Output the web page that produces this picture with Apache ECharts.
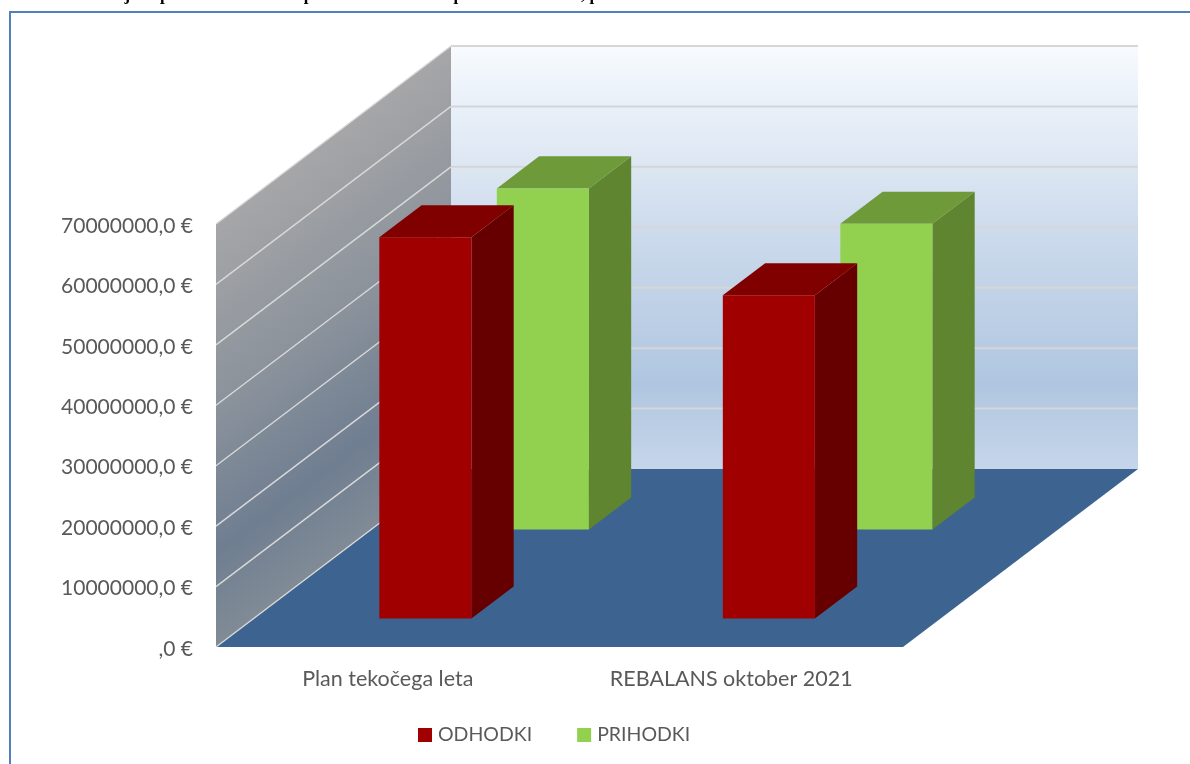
<!doctype html>
<html>
<head>
<meta charset="UTF-8">
<title>Plan in rebalans</title>
<script src="https://cdn.jsdelivr.net/npm/echarts@6/dist/echarts.min.js"></script>
<style>
    html, body { margin: 0; padding: 0; background: #fff; }
    #main { width: 1190px; height: 764px; overflow: hidden; }
</style>
</head>
<body>
<div id="main"></div>
<script type="text/javascript">
// podatki
var categories = ['Plan tekočega leta', 'REBALANS oktober 2021'];
var odhodki = [63100000, 53500000];
var prihodki = [56450000, 50600000];
var yTicks = [0, 10000000, 20000000, 30000000, 40000000, 50000000, 60000000, 70000000];
// top line of the page is cut off in the picture, only its lower edge shows
var captionText = 'Graf 1: Primerjava plana in rebalansa: prihodki in odhodki proračuna občine, plan in rebalans 2021 v EUR';

var textColor = '#595959';
var fontName = 'Lato';

// how far the back of the box is moved from the front, in pixels
var depthX = 235;
var depthY = -178;
var barWidth = 0.268; // part of a category band

function shifted(p, d) {
    return [p[0] + depthX * d, p[1] + depthY * d];
}

function face(points, color) {
    return { type: 'polygon', shape: { points: points }, style: { fill: color } };
}

function renderBox(params, api) {
    var cs = params.coordSys;
    var left = cs.x, right = cs.x + cs.width;
    var top = cs.y, bottom = cs.y + cs.height;
    var children = [];

    // back wall
    children.push(face([shifted([left, top], 1), shifted([right, top], 1), shifted([right, bottom], 1), shifted([left, bottom], 1)], {
        type: 'linear', x: 0, y: 0, x2: 0, y2: 1,
        colorStops: [
            { offset: 0, color: '#f8fbfe' },
            { offset: 0.14, color: '#e9f0f9' },
            { offset: 0.28, color: '#dde7f3' },
            { offset: 0.43, color: '#cddbec' },
            { offset: 0.8, color: '#b0c6e0' },
            { offset: 1, color: '#c6d6ea' }
        ]
    }));
    // side wall
    children.push(face([[left, top], shifted([left, top], 1), shifted([left, bottom], 1), [left, bottom]], {
        type: 'linear', x: left, y: top, x2: left + 203, y2: top + 269, global: true,
        colorStops: [
            { offset: 0, color: '#a6a6a8' },
            { offset: 0.42, color: '#8c939c' },
            { offset: 0.78, color: '#6f7e91' },
            { offset: 1, color: '#808b96' }
        ]
    }));
    // floor
    children.push(face([[left, bottom], [right, bottom], shifted([right, bottom], 1), shifted([left, bottom], 1)], '#3d6490'));

    // gridlines over both walls
    yTicks.forEach(function (t) {
        var y = api.coord([0, t])[1];
        var a = shifted([left, y], 1);
        var b = shifted([right, y], 1);
        children.push({ type: 'line', shape: { x1: left, y1: y, x2: a[0], y2: a[1] }, style: { stroke: '#d9d9d9', lineWidth: 1.4 } });
        if (t > 0) {
            children.push({ type: 'line', shape: { x1: a[0], y1: a[1], x2: b[0], y2: b[1] }, style: { stroke: '#d6d6d6', lineWidth: 2 } });
        }
    });
    return { type: 'group', children: children };
}

// d0, d1 = front and back of the bar inside the box, 0..1
function barRenderer(d0, d1, colFront, colSide, colTop) {
    return function (params, api) {
        var cat = api.value(0);
        var base = api.coord([cat, 0]);
        var tip = api.coord([cat, api.value(1)]);
        var half = api.size([1, 0])[0] * barWidth / 2;
        var bl = [base[0] - half, base[1]], br = [base[0] + half, base[1]];
        var tl = [base[0] - half, tip[1]], tr = [base[0] + half, tip[1]];
        return {
            type: 'group',
            children: [
                face([shifted(br, d0), shifted(br, d1), shifted(tr, d1), shifted(tr, d0)], colSide),
                face([shifted(tl, d0), shifted(tr, d0), shifted(tr, d1), shifted(tl, d1)], colTop),
                face([shifted(bl, d0), shifted(br, d0), shifted(tr, d0), shifted(tl, d0)], colFront)
            ]
        };
    };
}

function pairs(values) {
    return values.map(function (v, i) { return [i, v]; });
}

var myChart = echarts.init(document.getElementById('main'));
var option = {
    animation: false,
    title: {
        text: captionText,
        left: 10,
        top: -18,
        textStyle: { fontFamily: 'Liberation Serif', fontSize: 17, fontWeight: 'bold', color: '#000' }
    },
    grid: { left: 216, right: 287, top: 224, bottom: 117 },
    legend: {
        data: ['ODHODKI', 'PRIHODKI'],
        left: 413,
        top: 720,
        icon: 'rect',
        itemWidth: 14,
        itemHeight: 14,
        itemGap: 45,
        textStyle: { color: textColor, fontFamily: fontName, fontSize: 19.5, padding: [3, 0, 0, 1] }
    },
    xAxis: {
        type: 'category',
        data: categories,
        axisLine: { show: false },
        axisTick: { show: false },
        axisLabel: { color: textColor, fontFamily: fontName, fontSize: 21.5, margin: 21 }
    },
    yAxis: {
        type: 'value',
        min: 0,
        max: 70000000,
        interval: 10000000,
        splitLine: { show: false },
        axisLine: { show: false },
        axisTick: { show: false },
        axisLabel: {
            color: textColor, fontFamily: fontName, fontSize: 21, margin: 23,
            verticalAlign: 'top',
            lineHeight: 4,
            formatter: function (v) { return (v === 0 ? '' : v) + ',0 €'; }
        }
    },
    graphic: [{
        type: 'rect',
        silent: true,
        shape: { x: 10, y: 12, width: 1220, height: 800 },
        style: { fill: 'none', stroke: '#4f81bd', lineWidth: 2 }
    }],
    series: [
        { type: 'custom', name: 'box', silent: true, renderItem: renderBox, data: [[0, 0]], clip: false },
        {
            type: 'custom', name: 'PRIHODKI', silent: true, clip: false,
            itemStyle: { color: '#92d050' },
            renderItem: barRenderer(0.66, 0.84, '#92d050', '#5f8530', '#6e9a3a'),
            data: pairs(prihodki)
        },
        {
            type: 'custom', name: 'ODHODKI', silent: true, clip: false,
            itemStyle: { color: '#a00000' },
            renderItem: barRenderer(0.16, 0.34, '#a00000', '#660000', '#800000'),
            data: pairs(odhodki)
        }
    ]
};
myChart.setOption(option);
</script>
</body>
</html>
